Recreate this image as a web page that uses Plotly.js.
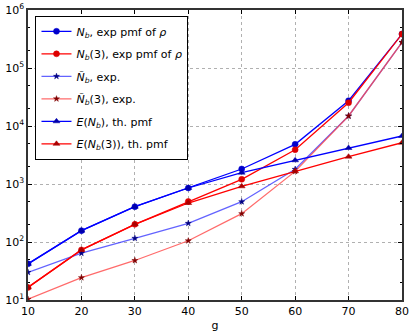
<!DOCTYPE html>
<html>
<head>
<meta charset="utf-8">
<script src="https://cdn.plot.ly/plotly-3.0.1.min.js"></script>
<style>body{margin:0;padding:0;background:#fff}</style>
</head>
<body>
<div id="plotDiv" style="width:415px;height:334px"></div>
<script>
var g = [10, 20, 30, 40, 50, 60, 70, 80];

var nb      = [42, 157, 406, 853, 1815, 4830, 27300, 385000];
var nb3     = [16.5, 73, 202, 500, 1205, 3900, 25200, 385000];
var nbTil   = [30, 64, 116, 210, 495, 1790, 14900, 277000];
var nb3Til  = [10.3, 24.3, 48, 105, 308, 1650, 14900, 277000];
var eNb     = [42, 157, 406, 853, 1566, 2560, 4180, 6730];
var eNb3    = [16.5, 73, 202, 470, 912, 1660, 2960, 5150];

var yTickVals = [10, 100, 1000, 10000, 100000, 1000000];
var yTickText = ['10<sup>1</sup>', '10<sup>2</sup>', '10<sup>3</sup>', '10<sup>4</sup>', '10<sup>5</sup>', '10<sup>6</sup>'];

function series(y, name, lineColor, sym, mColor, mSize, grp) {
  return {
    type: 'scatter', mode: 'lines+markers', x: g, y: y, name: name, legendgroup: grp,
    line: {color: lineColor, width: 1.3},
    marker: {symbol: sym, color: mColor, size: mSize, line: {color: mColor, width: 0.5}}
  };
}

var plotData = [
  series(nb, '<i>N<sub>b</sub></i>, exp pmf of <i>ρ</i>', '#0000ff', 'circle', '#0000cc', 6, 'a'),
  series(nb3, '<i>N<sub>b</sub></i>(3), exp pmf of <i>ρ</i>', '#ff0000', 'circle', '#dd0000', 6, 'b'),
  series(nbTil, '<i>Ñ<sub>b</sub></i>, exp.', 'rgba(60,60,255,0.8)', 'star', '#000080', 4.5, 'c'),
  series(nb3Til, '<i>Ñ<sub>b</sub></i>(3), exp.', 'rgba(255,70,70,0.8)', 'star', '#800000', 4.5, 'd'),
  series(eNb, '<i>E</i>(<i>N<sub>b</sub></i>), th. pmf', '#0000ff', 'triangle-up', '#0000aa', 6, 'e'),
  series(eNb3, '<i>E</i>(<i>N<sub>b</sub></i>(3)), th. pmf', '#ff0000', 'triangle-up', '#aa0000', 6, 'f')
];

var layout = {
  width: 415, height: 334,
  margin: {l: 28, r: 13, t: 10, b: 34},
  font: {family: 'DejaVu Sans', size: 11, color: '#000'},
  paper_bgcolor: '#fff', plot_bgcolor: '#fff',
  showlegend: true,
  legend: {
    x: 0.02, y: 0.98, xanchor: 'left', yanchor: 'top',
    bgcolor: '#fff', bordercolor: '#000', borderwidth: 1,
    font: {size: 11}, tracegroupgap: 3.5
  },
  xaxis: {
    range: [10, 80], dtick: 10, tick0: 10,
    ticks: 'inside', ticklen: 4, tickcolor: '#000',
    showline: true, linecolor: '#333', linewidth: 1.5, mirror: 'ticks',
    showgrid: true, gridcolor: '#b0b0b0', griddash: 'dot', gridwidth: 1,
    zeroline: false,
    title: {text: 'g', font: {size: 11}, standoff: 4}
  },
  yaxis: {
    type: 'log', range: [1, 6],
    tickvals: yTickVals, ticktext: yTickText,
    ticks: 'inside', ticklen: 4, tickcolor: '#000',
    minor: {ticks: 'inside', ticklen: 2, tickcolor: '#000', showgrid: false},
    showline: true, linecolor: '#333', linewidth: 1.5, mirror: 'ticks',
    showgrid: true, gridcolor: '#b0b0b0', griddash: 'dot', gridwidth: 1,
    zeroline: false
  }
};

Plotly.newPlot('plotDiv', plotData, layout, {displayModeBar: false});
</script>
</body>
</html>
